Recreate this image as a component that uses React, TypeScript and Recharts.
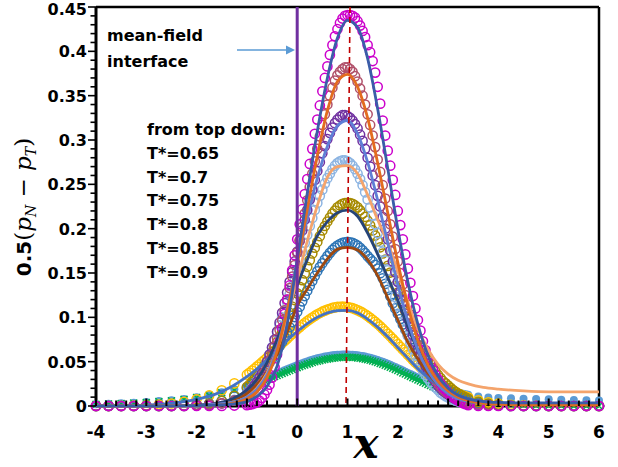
import React from 'react';
import { ComposedChart, Scatter, Line, XAxis, YAxis, ReferenceLine } from 'recharts';

// x positions of the simulation points (open markers)
const CX = [
  -4, -3.75, -3.5, -3.25, -3, -2.75, -2.5, -2.25, -2, -1.75, -1.5, -1.25,
  -1, -0.95, -0.9, -0.85, -0.8, -0.75, -0.7, -0.65, -0.6, -0.55, -0.5, -0.45, -0.4, -0.35, -0.3, -0.25, -0.2, -0.15, -0.1, -0.05,
  0, 0.05, 0.1, 0.15, 0.2, 0.25, 0.3, 0.35, 0.4, 0.45, 0.5, 0.55, 0.6, 0.65, 0.7, 0.75, 0.8, 0.85, 0.9, 0.95,
  1, 1.05, 1.1, 1.15, 1.2, 1.25, 1.3, 1.35, 1.4, 1.45, 1.5, 1.55, 1.6, 1.65, 1.7, 1.75, 1.8, 1.85, 1.9, 1.95,
  2, 2.05, 2.1, 2.15, 2.2, 2.25, 2.3, 2.35, 2.4, 2.45, 2.5, 2.55, 2.6, 2.65, 2.7, 2.75, 2.8, 2.85, 2.9, 2.95,
  3, 3.05, 3.1, 3.15, 3.2, 3.25, 3.3, 3.35, 3.4,
  3.6, 3.8, 4, 4.25, 4.5, 4.75, 5, 5.25, 5.5, 5.75, 6,
];

// simulation, T*=0.65 (magenta)
const SIM_065 = [
  0, 0, 0, 0, 0, 0, 0, 0, 0, 0, 0, 0.0005,
  0.001, 0.0015, 0.002, 0.003, 0.004, 0.006, 0.009, 0.013, 0.018, 0.024, 0.032, 0.044, 0.058, 0.073, 0.088, 0.104, 0.12, 0.136, 0.153, 0.17,
  0.188, 0.205, 0.222, 0.239, 0.256, 0.273, 0.29, 0.307, 0.323, 0.339, 0.355, 0.37, 0.383, 0.396, 0.407, 0.417, 0.425, 0.432, 0.437, 0.44,
  0.441, 0.441, 0.44, 0.438, 0.434, 0.429, 0.423, 0.416, 0.407, 0.399, 0.389, 0.376, 0.36, 0.341, 0.322, 0.305, 0.288, 0.271, 0.255, 0.238,
  0.22, 0.204, 0.188, 0.171, 0.155, 0.139, 0.124, 0.11, 0.097, 0.085, 0.073, 0.063, 0.055, 0.048, 0.041, 0.035, 0.03, 0.025, 0.021, 0.018,
  0.015, 0.012, 0.01, 0.008, 0.006, 0.0045, 0.003, 0.002, 0.001,
  0, 0, 0, 0, 0, 0, 0, 0, 0, 0, 0,
];
// T*=0.7
const SIM_070 = [
  0, 0, 0, 0, 0, 0, 0, 0, 0.001, 0.0015, 0.003, 0.006,
  0.011, 0.013, 0.016, 0.019, 0.023, 0.027, 0.032, 0.038, 0.044, 0.051, 0.058, 0.067, 0.076, 0.086, 0.097, 0.108, 0.12, 0.133, 0.146, 0.159,
  0.173, 0.187, 0.202, 0.217, 0.232, 0.247, 0.262, 0.276, 0.29, 0.304, 0.317, 0.329, 0.34, 0.35, 0.359, 0.367, 0.373, 0.377, 0.38, 0.382,
  0.382, 0.38, 0.377, 0.372, 0.366, 0.358, 0.35, 0.34, 0.329, 0.317, 0.305, 0.292, 0.278, 0.264, 0.249, 0.234, 0.22, 0.205, 0.191, 0.177,
  0.163, 0.15, 0.137, 0.125, 0.114, 0.103, 0.093, 0.083, 0.074, 0.066, 0.059, 0.052, 0.045, 0.04, 0.035, 0.03, 0.026, 0.022, 0.019, 0.016,
  0.014, 0.012, 0.01, 0.0085, 0.007, 0.006, 0.005, 0.004, 0.003,
  0.002, 0.001, 0.0005, 0, 0, 0, 0, 0, 0, 0, 0,
];
// T*=0.75
const SIM_075 = [
  0, 0, 0, 0, 0, 0, 0, 0, 0.001, 0.0015, 0.003, 0.006,
  0.013, 0.016, 0.019, 0.023, 0.027, 0.032, 0.037, 0.043, 0.05, 0.058, 0.066, 0.075, 0.084, 0.094, 0.105, 0.116, 0.128, 0.14, 0.151, 0.163,
  0.174, 0.186, 0.198, 0.21, 0.221, 0.233, 0.244, 0.255, 0.265, 0.275, 0.285, 0.293, 0.301, 0.308, 0.314, 0.319, 0.323, 0.326, 0.328, 0.328,
  0.327, 0.325, 0.322, 0.318, 0.313, 0.306, 0.299, 0.29, 0.28, 0.27, 0.26, 0.249, 0.237, 0.225, 0.213, 0.2, 0.188, 0.175, 0.163, 0.151,
  0.14, 0.129, 0.118, 0.108, 0.098, 0.089, 0.08, 0.072, 0.065, 0.058, 0.051, 0.045, 0.04, 0.035, 0.031, 0.027, 0.023, 0.02, 0.017, 0.015,
  0.013, 0.011, 0.009, 0.0077, 0.0065, 0.0055, 0.0046, 0.0039, 0.0032,
  0.0018, 0.001, 0.0005, 0, 0, 0, 0, 0, 0, 0, 0,
];
// T*=0.8
const SIM_080 = [
  0, 0, 0, 0, 0, 0, 0, 0, 0.001, 0.0015, 0.003, 0.007,
  0.014, 0.017, 0.02, 0.024, 0.028, 0.033, 0.038, 0.044, 0.05, 0.058, 0.066, 0.074, 0.083, 0.091, 0.1, 0.108, 0.117, 0.126, 0.135, 0.144,
  0.154, 0.164, 0.174, 0.184, 0.193, 0.203, 0.212, 0.221, 0.229, 0.237, 0.244, 0.251, 0.257, 0.262, 0.267, 0.271, 0.274, 0.276, 0.277, 0.277,
  0.276, 0.274, 0.271, 0.267, 0.262, 0.256, 0.249, 0.241, 0.233, 0.224, 0.215, 0.205, 0.195, 0.185, 0.174, 0.164, 0.153, 0.143, 0.133, 0.123,
  0.113, 0.104, 0.095, 0.087, 0.079, 0.071, 0.064, 0.057, 0.051, 0.045, 0.04, 0.035, 0.031, 0.027, 0.024, 0.021, 0.018, 0.015, 0.013, 0.011,
  0.0097, 0.0083, 0.007, 0.006, 0.005, 0.0042, 0.0035, 0.0029, 0.0024,
  0.0013, 0.0007, 0.0004, 0, 0, 0, 0, 0, 0, 0, 0,
];
// T*=0.85
const SIM_085 = [
  0, 0, 0, 0, 0, 0, 0, 0.0005, 0.0011, 0.0026, 0.0057, 0.0115,
  0.0215, 0.024, 0.027, 0.0305, 0.034, 0.0375, 0.041, 0.0455, 0.05, 0.0555, 0.061, 0.0665, 0.072, 0.078, 0.084, 0.091, 0.098, 0.105, 0.112, 0.1195,
  0.127, 0.1345, 0.142, 0.1495, 0.157, 0.1645, 0.172, 0.1785, 0.185, 0.1915, 0.198, 0.203, 0.208, 0.2125, 0.217, 0.2205, 0.224, 0.2262, 0.228, 0.2288,
  0.229, 0.2288, 0.228, 0.2262, 0.224, 0.2207, 0.217, 0.2132, 0.209, 0.2037, 0.198, 0.1922, 0.186, 0.179, 0.172, 0.165, 0.158, 0.1505, 0.143, 0.1355,
  0.128, 0.121, 0.114, 0.107, 0.1, 0.093, 0.086, 0.08, 0.074, 0.068, 0.062, 0.057, 0.052, 0.0475, 0.043, 0.039, 0.035, 0.0315, 0.028, 0.0255,
  0.023, 0.0205, 0.018, 0.016, 0.014, 0.0125, 0.011, 0.0095, 0.008,
  0.0045, 0.0025, 0.001, 0.0005, 0, 0, 0, 0, 0, 0, 0,
];
// T*=0.9
const SIM_090 = [
  0, 0, 0, 0, 0, 0, 0, 0.0005, 0.0013, 0.0028, 0.0058, 0.011,
  0.02, 0.0225, 0.025, 0.028, 0.031, 0.034, 0.037, 0.041, 0.045, 0.049, 0.053, 0.0577, 0.0625, 0.0675, 0.0725, 0.0777, 0.083, 0.0888, 0.0946, 0.1003,
  0.106, 0.112, 0.118, 0.124, 0.13, 0.1357, 0.141, 0.1467, 0.152, 0.1567, 0.161, 0.1652, 0.169, 0.1727, 0.176, 0.1787, 0.181, 0.1827, 0.184, 0.1847,
  0.185, 0.1847, 0.184, 0.1827, 0.181, 0.1785, 0.1756, 0.1725, 0.169, 0.166, 0.163, 0.1592, 0.155, 0.1497, 0.144, 0.1377, 0.131, 0.1237, 0.116, 0.11,
  0.104, 0.098, 0.092, 0.086, 0.08, 0.075, 0.07, 0.065, 0.06, 0.055, 0.05, 0.046, 0.042, 0.0385, 0.035, 0.0317, 0.0285, 0.0257, 0.023, 0.0205,
  0.018, 0.0162, 0.0144, 0.0128, 0.0113, 0.01, 0.0087, 0.0077, 0.0067,
  0.0037, 0.002, 0.001, 0.0005, 0, 0, 0, 0, 0, 0, 0,
];
// yellow set
const SIM_YEL = [
  0, 0, 0.0002, 0.0004, 0.0008, 0.0016, 0.0028, 0.0047, 0.0076, 0.0119, 0.0177, 0.0255,
  0.0353, 0.0375, 0.0398, 0.0421, 0.0445, 0.0469, 0.0494, 0.0519, 0.0545, 0.0571, 0.0598, 0.0625, 0.0652, 0.068, 0.0707, 0.0734, 0.076, 0.0787, 0.0813, 0.0839,
  0.0865, 0.0889, 0.0913, 0.0936, 0.0958, 0.0978, 0.0998, 0.1016, 0.1034, 0.1049, 0.1064, 0.1076, 0.1088, 0.1097, 0.1106, 0.1112, 0.1117, 0.1119, 0.112, 0.1119,
  0.1116, 0.111, 0.1103, 0.1092, 0.1081, 0.1067, 0.1052, 0.1034, 0.1016, 0.0994, 0.0972, 0.0949, 0.0925, 0.0899, 0.0872, 0.0844, 0.0815, 0.0786, 0.0757, 0.0728,
  0.0698, 0.0668, 0.0637, 0.0608, 0.0578, 0.0549, 0.052, 0.0492, 0.0465, 0.0438, 0.0411, 0.0386, 0.0362, 0.0338, 0.0315, 0.0293, 0.0272, 0.0253, 0.0234, 0.0217,
  0.02, 0.0184, 0.0168, 0.0154, 0.0141, 0.0129, 0.0118, 0.0108, 0.0098,
  0.0064, 0.0041, 0.0026, 0.0014, 0.0007, 0.0003, 0, 0, 0, 0, 0,
];
// green crosses
const SIM_GRN = [
  0.0018, 0.0022, 0.0027, 0.0033, 0.004, 0.005, 0.006, 0.0075, 0.0095, 0.012, 0.015, 0.018,
  0.0212, 0.0222, 0.0233, 0.0244, 0.0255, 0.0266, 0.0277, 0.0288, 0.03, 0.0311, 0.0322, 0.0333, 0.0345, 0.0356, 0.0368, 0.0379, 0.039, 0.0401, 0.0413, 0.0423,
  0.0433, 0.0444, 0.0454, 0.0463, 0.0472, 0.0481, 0.049, 0.0498, 0.0505, 0.0512, 0.0518, 0.0524, 0.0529, 0.0534, 0.0538, 0.0542, 0.0545, 0.0547, 0.0549, 0.055,
  0.055, 0.0549, 0.0548, 0.0546, 0.0543, 0.0539, 0.0534, 0.0529, 0.0523, 0.0516, 0.0508, 0.0499, 0.049, 0.048, 0.047, 0.0459, 0.0448, 0.0437, 0.0425, 0.0413,
  0.04, 0.0387, 0.0373, 0.036, 0.0347, 0.0334, 0.032, 0.0307, 0.0294, 0.0281, 0.0268, 0.0256, 0.0243, 0.0231, 0.0218, 0.0207, 0.0195, 0.0184, 0.0173, 0.0163,
  0.0153, 0.0143, 0.0134, 0.0125, 0.0117, 0.0109, 0.0101, 0.0094, 0.0087,
  0.0063, 0.0045, 0.0031, 0.0019, 0.0011, 0.0006, 0.0003, 0.0002, 0.0001, 0, 0,
];
// filled light blue
const SIM_LBL = [
  0.002, 0.0025, 0.003, 0.0037, 0.0045, 0.0055, 0.0066, 0.008, 0.01, 0.0125, 0.0155, 0.019,
  0.0222, 0.0233, 0.0245, 0.0256, 0.0268, 0.028, 0.0292, 0.0304, 0.0316, 0.0328, 0.034, 0.0352, 0.0365, 0.0377, 0.039, 0.0402, 0.0414, 0.0426, 0.0438, 0.0449,
  0.046, 0.0472, 0.0483, 0.0493, 0.0503, 0.0513, 0.0522, 0.053, 0.0538, 0.0545, 0.0551, 0.0557, 0.0562, 0.0567, 0.0571, 0.0574, 0.0577, 0.0579, 0.058, 0.058,
  0.058, 0.0579, 0.0578, 0.0575, 0.0572, 0.0568, 0.0563, 0.0557, 0.0551, 0.0544, 0.0536, 0.0527, 0.0518, 0.0508, 0.0498, 0.0487, 0.0476, 0.0464, 0.0452, 0.044,
  0.0427, 0.0414, 0.04, 0.0387, 0.0373, 0.036, 0.0346, 0.0333, 0.032, 0.0307, 0.0294, 0.0282, 0.027, 0.0258, 0.0246, 0.0235, 0.0224, 0.0214, 0.0204, 0.0194,
  0.0185, 0.0176, 0.0167, 0.016, 0.0152, 0.0145, 0.0138, 0.0132, 0.0126,
  0.0108, 0.0097, 0.009, 0.0086, 0.0082, 0.0078, 0.0075, 0.0071, 0.0068, 0.0065, 0.0062,
];

// x positions of the mean-field curves
const LX = [
  -4, -3, -2.5, -2, -1.6, -1.3, -1, -0.8, -0.6, -0.4, -0.2, 0, 0.2, 0.4, 0.6, 0.8,
  1, 1.2, 1.4, 1.6, 1.8, 2, 2.2, 2.4, 2.6, 2.8, 3, 3.2, 3.4, 3.7, 4, 4.5, 5, 6,
];
const MF_065 = [0, 0, 0, 0.0005, 0.001, 0.002, 0.005, 0.011, 0.022, 0.045, 0.092, 0.165, 0.24, 0.31, 0.37, 0.415,
  0.435, 0.427, 0.392, 0.335, 0.268, 0.2, 0.14, 0.092, 0.057, 0.034, 0.02, 0.012, 0.008, 0.005, 0.004, 0.0035, 0.0035, 0.0035];
const MF_070 = [0, 0, 0, 0.0005, 0.001, 0.003, 0.008, 0.016, 0.032, 0.062, 0.108, 0.16, 0.222, 0.282, 0.333, 0.366,
  0.374, 0.36, 0.325, 0.274, 0.218, 0.162, 0.113, 0.074, 0.046, 0.028, 0.017, 0.01, 0.006, 0.003, 0.002, 0.001, 0.001, 0.001];
const MF_075 = [0, 0, 0, 0.0005, 0.002, 0.004, 0.01, 0.019, 0.035, 0.065, 0.11, 0.162, 0.212, 0.257, 0.293, 0.316,
  0.322, 0.307, 0.275, 0.232, 0.184, 0.137, 0.096, 0.063, 0.04, 0.024, 0.014, 0.008, 0.005, 0.003, 0.002, 0.0015, 0.0015, 0.0015];
const MF_080 = [0, 0, 0, 0.0005, 0.0015, 0.004, 0.01, 0.02, 0.037, 0.064, 0.1, 0.143, 0.186, 0.226, 0.258, 0.27,
  0.271, 0.262, 0.238, 0.21, 0.184, 0.152, 0.117, 0.087, 0.064, 0.047, 0.036, 0.029, 0.025, 0.021, 0.019, 0.017, 0.016, 0.016];
const MF_085 = [0, 0, 0.0003, 0.001, 0.003, 0.008, 0.018, 0.03, 0.049, 0.075, 0.105, 0.136, 0.165, 0.192, 0.208, 0.218,
  0.221, 0.214, 0.195, 0.171, 0.145, 0.119, 0.089, 0.063, 0.043, 0.028, 0.017, 0.01, 0.006, 0.004, 0.003, 0.0025, 0.0025, 0.0025];
const MF_090 = [0, 0, 0.0003, 0.001, 0.0025, 0.006, 0.014, 0.024, 0.038, 0.058, 0.083, 0.113, 0.132, 0.15, 0.166, 0.177,
  0.179, 0.176, 0.165, 0.147, 0.122, 0.097, 0.072, 0.053, 0.037, 0.024, 0.015, 0.009, 0.005, 0.003, 0.002, 0.0015, 0.0015, 0.0015];
const MF_YEL = [0, 0.001, 0.003, 0.0075, 0.014, 0.022, 0.033, 0.042, 0.052, 0.063, 0.074, 0.084, 0.093, 0.1, 0.105, 0.1075,
  0.1078, 0.105, 0.098, 0.089, 0.078, 0.066, 0.054, 0.042, 0.032, 0.024, 0.017, 0.012, 0.008, 0.005, 0.0035, 0.0025, 0.002, 0.002];

const X_TICKS = Array.from({ length: 51 }, (_, i) => Math.round((-4 + i * 0.2) * 10) / 10);
const Y_TICKS = Array.from({ length: 46 }, (_, i) => i / 100);
const NOTE_LINES = ['from top down:', 'T*=0.65', 'T*=0.7', 'T*=0.75', 'T*=0.8', 'T*=0.85', 'T*=0.9'];

const pts = (xs: number[], ys: number[]) => xs.map((x, i) => ({ x, y: ys[i] }));

const FONT = 'DejaVu Sans';

const ring = (color: string) => (p: any) =>
  <circle cx={p.cx} cy={p.cy} r={4.6} fill="none" stroke={color} strokeWidth={1.5} />;
const disc = (color: string) => (p: any) =>
  <circle cx={p.cx} cy={p.cy} r={4} fill={color} />;
const cross = (color: string) => (p: any) => (
  <path
    d={`M${p.cx - 3.5},${p.cy - 3.5}L${p.cx + 3.5},${p.cy + 3.5}M${p.cx - 3.5},${p.cy + 3.5}L${p.cx + 3.5},${p.cy - 3.5}`}
    stroke={color}
    strokeWidth={1.5}
  />
);

const XTick = ({ x, y, payload }: any) => {
  const v = payload.value;
  const major = Math.abs(v - Math.round(v)) < 1e-6;
  return (
    <g>
      <line x1={x} x2={x} y1={y} y2={y - (major ? 7.5 : 5.5)} stroke="#000" strokeWidth={2} />
      {major && (
        <text x={x} y={y + 32} textAnchor="middle" fontFamily={FONT} fontWeight="bold" fontSize={17} fill="#000">
          {Math.round(v)}
        </text>
      )}
    </g>
  );
};

const YTick = ({ x, y, payload }: any) => {
  const v = payload.value;
  const major = Math.round(v * 100) % 5 === 0;
  // the top label sits against the chart edge; keep it just inside
  const base = v > 0.445 ? Math.max(y + 6, 15) : y + 6;
  return (
    <g>
      <line x1={x} x2={x - (major ? 8 : 5.5)} y1={y} y2={y} stroke="#000" strokeWidth={1.6} />
      {major && (
        <text x={x - 9} y={base} textAnchor="end" fontFamily={FONT} fontWeight="bold" fontSize={16} fill="#000">
          {String(+v.toFixed(2))}
        </text>
      )}
    </g>
  );
};

export default function App() {
  return (
    <div style={{ position: 'absolute', left: 0, top: 0, width: 618, height: 467, background: '#fff' }}>
      <ComposedChart width={618} height={467} margin={{ top: 7, right: 19, bottom: 21, left: 0 }}>
        <XAxis
          type="number"
          dataKey="x"
          domain={[-4, 6]}
          ticks={X_TICKS}
          interval={0}
          height={40}
          tick={(p: any) => <XTick {...p} />}
          tickLine={false}
          tickSize={0}
          tickMargin={0}
          axisLine={{ stroke: '#000', strokeWidth: 3 }}
        />
        <YAxis
          type="number"
          dataKey="y"
          domain={[0, 0.45]}
          ticks={Y_TICKS}
          interval={0}
          width={96}
          tick={(p: any) => <YTick {...p} />}
          tickLine={false}
          tickSize={0}
          tickMargin={0}
          axisLine={{ stroke: '#000', strokeWidth: 3 }}
        />
        <ReferenceLine y={0.45} stroke="#000" strokeWidth={2.5} />
        <ReferenceLine x={6} stroke="#000" strokeWidth={2.5} />

        <Scatter data={pts(CX, SIM_LBL)} shape={disc('#5B9BD5')} isAnimationActive={false} />
        <Scatter data={pts(CX, SIM_GRN)} shape={cross('#00B050')} isAnimationActive={false} />
        <Scatter data={pts(CX, SIM_YEL)} shape={ring('#FFC000')} isAnimationActive={false} />
        <Scatter data={pts(CX, SIM_090)} shape={ring('#2E75B6')} isAnimationActive={false} />
        <Scatter data={pts(CX, SIM_085)} shape={ring('#A68A00')} isAnimationActive={false} />
        <Scatter data={pts(CX, SIM_080)} shape={ring('#8CB4E2')} isAnimationActive={false} />
        <Scatter data={pts(CX, SIM_075)} shape={ring('#7030A0')} isAnimationActive={false} />
        <Scatter data={pts(CX, SIM_070)} shape={ring('#B0506A')} isAnimationActive={false} />
        <Scatter data={pts(CX, SIM_065)} shape={ring('#CC00CC')} isAnimationActive={false} />

        <Line zIndex={700} data={pts(LX, MF_YEL)} dataKey="y" type="monotone" stroke="#4472C4" strokeWidth={2.8} dot={false} isAnimationActive={false} />
        <Line zIndex={700} data={pts(LX, MF_090)} dataKey="y" type="monotone" stroke="#9E480E" strokeWidth={2.8} dot={false} isAnimationActive={false} />
        <Line zIndex={700} data={pts(LX, MF_085)} dataKey="y" type="monotone" stroke="#264478" strokeWidth={2.8} dot={false} isAnimationActive={false} />
        <Line zIndex={700} data={pts(LX, MF_080)} dataKey="y" type="monotone" stroke="#F4A46C" strokeWidth={2.8} dot={false} isAnimationActive={false} />
        <Line zIndex={700} data={pts(LX, MF_075)} dataKey="y" type="monotone" stroke="#5F7FD6" strokeWidth={2.8} dot={false} isAnimationActive={false} />
        <Line zIndex={700} data={pts(LX, MF_070)} dataKey="y" type="monotone" stroke="#E36C1F" strokeWidth={2.8} dot={false} isAnimationActive={false} />
        <Line zIndex={700} data={pts(LX, MF_065)} dataKey="y" type="monotone" stroke="#3A5DA8" strokeWidth={2.8} dot={false} isAnimationActive={false} />

        <ReferenceLine zIndex={800} x={0} stroke="#7030A0" strokeWidth={3} />
        <ReferenceLine
          zIndex={800}
          segment={[{ x: 1.05, y: 0.45 }, { x: 0.97, y: 0 }]}
          stroke="#C00000"
          strokeWidth={1.6}
          strokeDasharray="6 4"
        />
      </ComposedChart>

      <svg width={618} height={467} style={{ position: 'absolute', left: 0, top: 0, pointerEvents: 'none' }}>
        <g fontFamily={FONT} fontWeight="bold" fontSize={16} fill="#000">
          <text x={107} y={41}>mean-field</text>
          <text x={107} y={67}>interface</text>
          {NOTE_LINES.map((t, i) => (
            <text key={t} x={147} y={135 + i * 23.8}>{t}</text>
          ))}
        </g>
        <line x1={237} y1={50} x2={287} y2={50} stroke="#5B9BD5" strokeWidth={1.5} />
        <polygon points="286,45.5 295,50 286,54.5" fill="#5B9BD5" />

        <text transform="translate(31,207) rotate(-90)" textAnchor="middle" fontFamily="DejaVu Serif" fontSize={23} fill="#000">
          <tspan fontFamily={FONT} fontWeight="bold" fontSize={20}>0.5</tspan>
          <tspan>(</tspan>
          <tspan fontStyle="italic">p</tspan>
          <tspan fontStyle="italic" fontSize={14} dy={5}>N</tspan>
          <tspan dy={-5}> − </tspan>
          <tspan fontStyle="italic">p</tspan>
          <tspan fontStyle="italic" fontSize={14} dy={5}>T</tspan>
          <tspan dy={-5}>)</tspan>
        </text>
        <text x={366} y={458} textAnchor="middle" fontFamily="DejaVu Serif" fontStyle="italic" fontWeight="bold" fontSize={42} fill="#000">
          x
        </text>
      </svg>
    </div>
  );
}
